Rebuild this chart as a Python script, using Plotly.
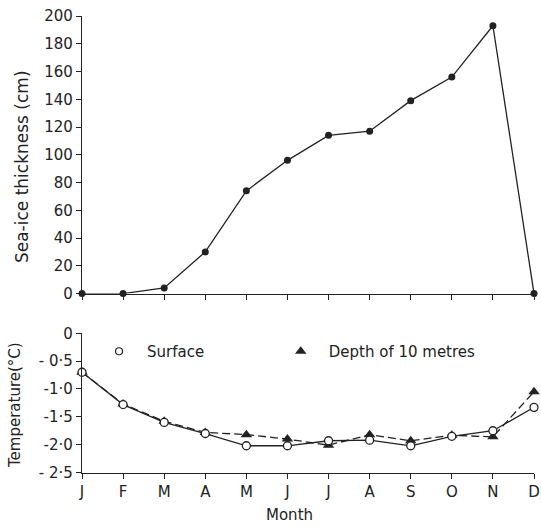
import plotly.graph_objects as go

months = ["J", "F", "M", "A", "M", "J", "J", "A", "S", "O", "N", "D"]
ice_thickness = [0, 0, 4, 30, 74, 96, 114, 117, 139, 156, 193, 0]
temp_surface = [-0.70, -1.28, -1.60, -1.80, -2.02, -2.02, -1.93, -1.92, -2.02, -1.85, -1.75, -1.33]
temp_depth10 = [-0.70, -1.27, -1.58, -1.78, -1.82, -1.90, -2.01, -1.82, -1.93, -1.83, -1.86, -1.05]
ice_ticks = [0, 20, 40, 60, 80, 100, 120, 140, 160, 180, 200]
temp_ticks = [0, -0.5, -1.0, -1.5, -2.0, -2.5]
temp_ticktext = ["0", "- 0·5", "-1·0", "-1·5", "-2·0", "- 2·5"]

x = list(range(len(months)))
INK = "#222222"
FONT = "DejaVu Sans"

fig = go.Figure()

fig.add_trace(go.Scatter(
    x=x, y=ice_thickness, mode="lines+markers", xaxis="x", yaxis="y",
    line=dict(color=INK, width=1.3),
    marker=dict(symbol="circle", size=7, color=INK),
    showlegend=False, cliponaxis=False))

fig.add_trace(go.Scatter(
    x=x, y=temp_depth10, mode="lines+markers", xaxis="x2", yaxis="y2",
    line=dict(color=INK, width=1.3, dash="8px,4px"),
    marker=dict(symbol="triangle-up", size=10, color=INK),
    showlegend=False, cliponaxis=False))

fig.add_trace(go.Scatter(
    x=x, y=temp_surface, mode="lines+markers", xaxis="x2", yaxis="y2",
    line=dict(color=INK, width=1.3),
    marker=dict(symbol="circle", size=8, color="white", line=dict(color=INK, width=1.3)),
    showlegend=False, cliponaxis=False))

# legend entries (markers only, as in the original key)
fig.add_trace(go.Scatter(
    x=[None], y=[None], mode="markers", xaxis="x2", yaxis="y2", name="Surface",
    legend="legend",
    marker=dict(symbol="circle", size=7, color="white", line=dict(color=INK, width=1.2))))
fig.add_trace(go.Scatter(
    x=[None], y=[None], mode="markers", xaxis="x2", yaxis="y2", name="Depth of 10 metres",
    legend="legend2",
    marker=dict(symbol="triangle-up", size=10, color=INK)))

axis_common = dict(
    showline=True, linecolor=INK, linewidth=1.3, showgrid=False, zeroline=False,
    ticks="outside", ticklen=5, tickcolor=INK, tickwidth=1.2,
    tickfont=dict(family=FONT, size=15, color=INK), automargin=False)

legend_common = dict(orientation="h", y=0.333, xanchor="left", yanchor="middle",
                     font=dict(family=FONT, size=15, color=INK), itemwidth=46,
                     bgcolor="rgba(0,0,0,0)")

fig.update_layout(
    width=541, height=527,
    margin=dict(l=82, r=7, t=0, b=0),
    paper_bgcolor="white", plot_bgcolor="white",
    font=dict(family=FONT, color=INK),
    xaxis=dict(axis_common, domain=[0, 1], range=[0, 11], tickvals=x,
               showticklabels=False, anchor="y"),
    yaxis=dict(axis_common, domain=[0.443, 0.9696], range=[0, 200],
               tickvals=ice_ticks, anchor="x"),
    xaxis2=dict(axis_common, domain=[0, 1], range=[0, 11], tickvals=x,
                ticktext=months, anchor="y2"),
    yaxis2=dict(axis_common, domain=[0.1034, 0.3676], range=[-2.5, 0],
                tickvals=temp_ticks, ticktext=temp_ticktext, anchor="x2"),
    legend=dict(legend_common, x=0.02),
    legend2=dict(legend_common, x=0.422),
    annotations=[
        dict(text="Sea-ice thickness (cm)", xref="paper", yref="paper",
             x=-0.1327, y=0.683, xanchor="center", yanchor="middle",
             textangle=-90, showarrow=False,
             font=dict(family=FONT, size=17, color=INK)),
        dict(text="Temperature(°C)", xref="paper", yref="paper",
             x=-0.1482, y=0.2315, xanchor="center", yanchor="middle",
             textangle=-90, showarrow=False,
             font=dict(family=FONT, size=15, color=INK)),
        dict(text="Month", xref="paper", yref="paper",
             x=0.460, y=0.0228, xanchor="center", yanchor="middle",
             showarrow=False,
             font=dict(family=FONT, size=15, color=INK)),
    ],
)

fig.write_html("out.html")
